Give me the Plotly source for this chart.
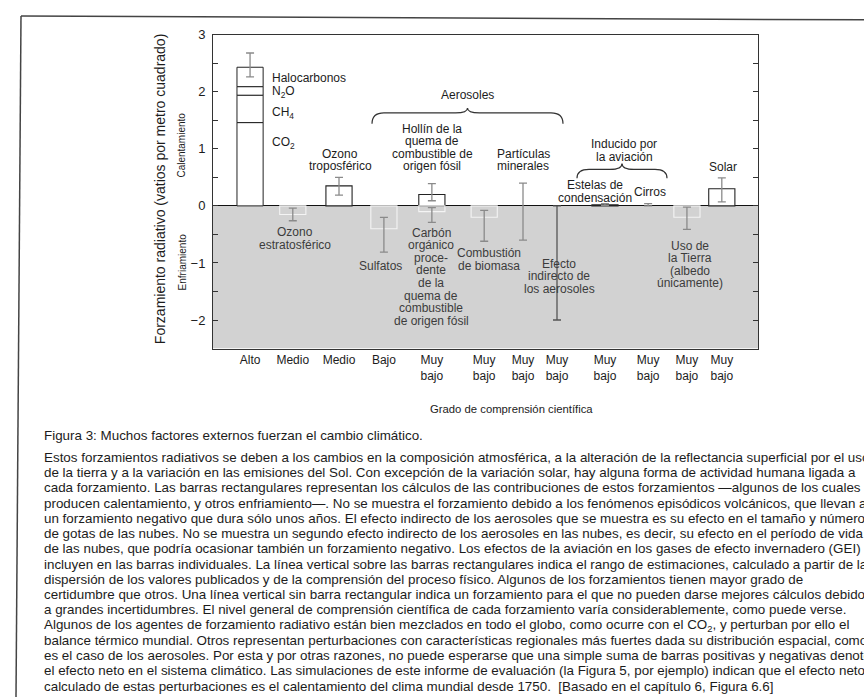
import plotly.graph_objects as go

# ---------------------------------------------------------------- data
# Category slots along the x axis (one per level-of-understanding label)
slot_pos = [0.85, 1.83, 2.89, 3.92, 5.02, 6.22, 7.11, 7.89, 8.99, 9.98, 10.87, 11.67]
slot_level = ["Alto", "Medio", "Medio", "Bajo",
              "Muy<br>bajo", "Muy<br>bajo", "Muy<br>bajo", "Muy<br>bajo",
              "Muy<br>bajo", "Muy<br>bajo", "Muy<br>bajo", "Muy<br>bajo"]

# Well-mixed greenhouse gases, stacked (W/m2)
ghg_names = ["CO2", "CH4", "N2O", "Halocarbonos"]
ghg_values = [1.46, 0.48, 0.15, 0.34]
ghg_range = [2.26, 2.68]

# Other forcings drawn as rectangular bars
bar_names = ["Ozono estratosférico", "Ozono troposférico", "Sulfatos",
             "Hollín fósil", "Carbón orgánico fósil", "Combustión de biomasa",
             "Estelas de condensación", "Uso de la Tierra", "Solar"]
bar_slot = [1, 2, 3, 4, 4, 5, 8, 10, 11]
bar_values = [-0.15, 0.35, -0.40, 0.20, -0.10, -0.20, 0.02, -0.20, 0.30]
bar_low = [-0.26, 0.19, -0.81, 0.09, -0.29, -0.62, 0.005, -0.41, 0.07]
bar_high = [-0.04, 0.50, -0.20, 0.39, -0.03, -0.08, 0.04, -0.02, 0.49]

# Forcings shown only as an uncertainty range (no best estimate)
range_names = ["Partículas minerales", "Efecto indirecto de los aerosoles", "Cirros"]
range_slot = [6, 7, 9]
range_low = [-0.60, -2.00, 0.0]
range_high = [0.40, 0.0, 0.04]

# y axis ticks
y_major = [-2, -1, 0, 1, 2, 3]
y_minor = [-2.5, -1.5, -0.5, 0.5, 1.5, 2.5]

# ---------------------------------------------------------------- layout helpers
W, H = 864, 697
PX0, PX1, PY0, PY1 = 213, 758, 28, 345
FONT = "Liberation Sans, Arial, sans-serif"
GREY_ZONE = "#d2d2d2"
INK = "#1c1c1c"
INK_GREY = "#3c3c3c"
ERR = "#8a8a8a"


def pp(x, y):
    """pixel -> paper coordinates"""
    return x / W, 1 - y / H


fig = go.Figure()

# cooling half of the panel
fig.add_shape(type="rect", xref="paper", yref="y",
              x0=PX0 / W, x1=PX1 / W, y0=-2.5, y1=0,
              fillcolor=GREY_ZONE, line_width=0, layer="below")

# greenhouse gas stack
base = 0.0
for name, v in zip(ghg_names, ghg_values):
    fig.add_trace(go.Bar(x=[slot_pos[0]], y=[v], base=[base], width=0.6, name=name,
                         marker=dict(color="white", line=dict(color="#222", width=1))))
    base += v
ghg_total = sum(ghg_values)
fig.add_trace(go.Scatter(
    x=[slot_pos[0]], y=[ghg_total], mode="markers", marker=dict(size=1, opacity=0),
    error_y=dict(type="data", symmetric=False,
                 array=[ghg_range[1] - ghg_total], arrayminus=[ghg_total - ghg_range[0]],
                 color=ERR, thickness=1.3, width=4)))

# rectangular bars
xs = [slot_pos[s] for s in bar_slot]
fills = ["white" if v > 0 else "rgba(0,0,0,0)" for v in bar_values]
edges = ["#222" if v > 0 else "#f4f4f4" for v in bar_values]
fig.add_trace(go.Bar(x=xs, y=bar_values, width=0.6,
                     marker=dict(color=fills, line=dict(color=edges, width=1.1))))
fig.add_trace(go.Scatter(
    x=xs, y=bar_values, mode="markers", marker=dict(size=1, opacity=0),
    error_y=dict(type="data", symmetric=False,
                 array=[h - v for h, v in zip(bar_high, bar_values)],
                 arrayminus=[v - lo for v, lo in zip(bar_values, bar_low)],
                 color=ERR, thickness=1.3, width=4)))

# range-only forcings
for s, lo, hi, nm in zip(range_slot, range_low, range_high, range_names):
    mid = (lo + hi) / 2
    col = "#555" if "indirecto" in nm else ERR
    fig.add_trace(go.Scatter(
        x=[slot_pos[s]], y=[mid], mode="markers", marker=dict(size=1, opacity=0),
        error_y=dict(type="data", symmetric=False, array=[hi - mid], arrayminus=[mid - lo],
                     color=col, thickness=1.3, width=4)))

# ---------------------------------------------------------------- axes
ytt = ["\u2212%d" % -v if v < 0 else "%d" % v for v in y_major]
fig.update_layout(
    width=W, height=H, margin=dict(l=0, r=0, t=0, b=0),
    paper_bgcolor="white", plot_bgcolor="white", showlegend=False, barmode="overlay",
    font=dict(family=FONT, color=INK),
    xaxis=dict(domain=[PX0 / W, PX1 / W], range=[0, 12.5],
               tickvals=slot_pos, ticktext=slot_level, ticks="",
               tickfont=dict(size=12, color=INK, family=FONT),
               showline=True, linecolor="#333", linewidth=1, mirror=True,
               showgrid=False, zeroline=False),
    yaxis=dict(domain=[1 - PY1 / H, 1 - PY0 / H], range=[-2.5, 3],
               tickvals=y_major, ticktext=ytt, ticks="inside", ticklen=5,
               tickcolor="#333", tickwidth=1, ticklabelstandoff=4,
               minor=dict(tickvals=y_minor, ticks="inside", ticklen=5,
                          tickcolor="#333", tickwidth=1, showgrid=False),
               tickfont=dict(size=13, color=INK, family=FONT),
               showline=True, linecolor="#333", linewidth=1, mirror="ticks",
               showgrid=False, zeroline=True, zerolinecolor="#111", zerolinewidth=1.2),
)


def label(lines, x, y, size=12, color=INK, spacing=12.5, anchor="center", angle=0):
    for i, t in enumerate(lines):
        px, py = pp(x, y + i * spacing)
        fig.add_annotation(x=px, y=py, xref="paper", yref="paper", text=t,
                           showarrow=False, xanchor=anchor, yanchor="middle",
                           textangle=angle,
                           font=dict(size=size, color=color, family=FONT))


# stack component labels
label(["Halocarbonos"], 270, 72, anchor="left")
label(["N<sub>2</sub>O"], 270, 86, anchor="left")
label(["CH<sub>4</sub>"], 270, 107, anchor="left")
label(["CO<sub>2</sub>"], 270, 137, anchor="left")

# warming-side labels
label(["Aerosoles"], 468, 89)
label(["Hollín de la", "quema de", "combustible de", "origen fósil"], 432, 123)
label(["Ozono", "troposférico"], 340, 148)
label(["Partículas", "minerales"], 523, 148)
label(["Inducido por", "la aviación"], 624, 138, spacing=13.5)
label(["Estelas de", "condensación"], 595, 180)
label(["Cirros"], 650, 187)
label(["Solar"], 723, 162)

# cooling-side labels
label(["Ozono", "estratosférico"], 295, 227, color=INK_GREY, spacing=13.5)
label(["Sulfatos"], 380, 262, color=INK_GREY)
label(["Carbón", "orgánico", "proce-", "dente", "de la", "quema de",
       "combustible", "de origen fósil"], 431, 228, color=INK_GREY, spacing=12.7)
label(["Combustión", "de biomasa"], 489, 249, color=INK_GREY, spacing=13)
label(["Efecto", "indirecto de", "los aerosoles"], 559, 260, color=INK_GREY, spacing=12.2)
label(["Uso de", "la Tierra", "(albedo", "únicamente)"], 690, 241, color=INK_GREY, spacing=12.7)


# braces
def brace(xa, xb, yb, ytip, yend):
    xm = (xa + xb) / 2
    r = 12
    pts = [("M", xa, yend), ("Q", xa, yb, xa + r, yb), ("L", xm - r, yb),
           ("Q", xm, yb, xm, ytip), ("Q", xm, yb, xm + r, yb), ("L", xb - r, yb),
           ("Q", xb, yb, xb, yend)]
    path = ""
    for p in pts:
        cmd, coords = p[0], p[1:]
        xy = []
        for k in range(0, len(coords), 2):
            a, b = pp(coords[k], coords[k + 1])
            xy.append("%.5f,%.5f" % (a, b))
        path += cmd + " " + " ".join(xy) + " "
    fig.add_shape(type="path", xref="paper", yref="paper", path=path.strip(),
                  line=dict(color="#333", width=1.2))


brace(372, 563, 107, 102, 118)
brace(577, 667, 164, 158, 173)

# axis titles
label(["Forzamiento radiativo (vatios por metro cuadrado)"], 160, 184, size=14, angle=-90)
label(["Calentamiento"], 182, 140, size=10, angle=-90)
label(["Enfriamiento"], 182, 258, size=10, angle=-90)
label(["Grado de comprensión científica"], 511, 406, size=11.3)

# page frame
for (xa, ya, xb, yb) in [(21, 9, 864, 13), (21, 9, 16, 697)]:
    a0, b0 = pp(xa, ya)
    a1, b1 = pp(xb, yb)
    fig.add_shape(type="line", xref="paper", yref="paper", x0=a0, y0=b0, x1=a1, y1=b1,
                  line=dict(color="#444", width=1.5))

# caption
caption_title = "Figura 3: Muchos factores externos fuerzan el cambio climático."
caption_lines = [
    "Estos forzamientos radiativos se deben a los cambios en la composición atmosférica, a la alteración de la reflectancia superficial por el uso",
    "de la tierra y a la variación en las emisiones del Sol. Con excepción de la variación solar, hay alguna forma de actividad humana ligada a",
    "cada forzamiento. Las barras rectangulares representan los cálculos de las contribuciones de estos forzamientos —algunos de los cuales",
    "producen calentamiento, y otros enfriamiento—. No se muestra el forzamiento debido a los fenómenos episódicos volcánicos, que llevan a",
    "un forzamiento negativo que dura sólo unos años. El efecto indirecto de los aerosoles que se muestra es su efecto en el tamaño y número",
    "de gotas de las nubes. No se muestra un segundo efecto indirecto de los aerosoles en las nubes, es decir, su efecto en el período de vida",
    "de las nubes, que podría ocasionar también un forzamiento negativo. Los efectos de la aviación en los gases de efecto invernadero (GEI) se",
    "incluyen en las barras individuales. La línea vertical sobre las barras rectangulares indica el rango de estimaciones, calculado a partir de la",
    "dispersión de los valores publicados y de la comprensión del proceso físico. Algunos de los forzamientos tienen mayor grado de",
    "certidumbre que otros. Una línea vertical sin barra rectangular indica un forzamiento para el que no pueden darse mejores cálculos debido",
    "a grandes incertidumbres. El nivel general de comprensión científica de cada forzamiento varía considerablemente, como puede verse.",
    "Algunos de los agentes de forzamiento radiativo están bien mezclados en todo el globo, como ocurre con el CO<sub>2</sub>, y perturban por ello el",
    "balance térmico mundial. Otros representan perturbaciones con características regionales más fuertes dada su distribución espacial, como",
    "es el caso de los aerosoles. Por esta y por otras razones, no puede esperarse que una simple suma de barras positivas y negativas denote",
    "el efecto neto en el sistema climático. Las simulaciones de este informe de evaluación (la Figura 5, por ejemplo) indican que el efecto neto",
    "calculado de estas perturbaciones es el calentamiento del clima mundial desde 1750.  [Basado en el capítulo 6, Figura 6.6]",
]
label([caption_title], 42, 433, size=13.4, anchor="left")
label(caption_lines, 42, 455, size=13.4, anchor="left", spacing=15.4)

fig.write_html("out.html")
